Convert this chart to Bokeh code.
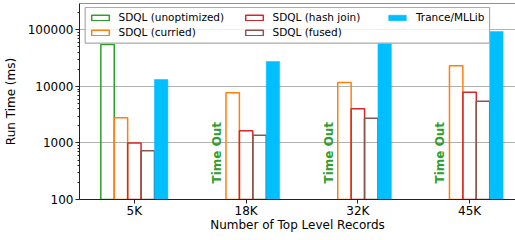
import math
from bokeh.plotting import figure
from bokeh.models import (Range1d, FixedTicker, NumeralTickFormatter, Legend,
                          LegendItem, Span, ColumnDataSource)
from bokeh.core.properties import value
from bokeh.embed import file_html
from bokeh.resources import INLINE

# ---- data ----
categories = ["5K", "18K", "32K", "45K"]
sdql_unoptimized = [55300, None, None, None]   # None = Time Out
sdql_curried = [2790, 7730, 11780, 23200]
sdql_hash_join = [1000, 1645, 4030, 7920]
sdql_fused = [728, 1375, 2750, 5500]
trance_mllib = [13300, 27700, 58300, 94000]
y_ticks = [100, 1000, 10000, 100000]

series = [
    ("SDQL (unoptimized)", sdql_unoptimized, "#2ca02c", False),
    ("SDQL (curried)", sdql_curried, "#ff7f0e", False),
    ("SDQL (hash join)", sdql_hash_join, "#d62728", False),
    ("SDQL (fused)", sdql_fused, "#8c564b", False),
    ("Trance/MLLib", trance_mllib, "#00bfff", True),
]

FONT = "DejaVu Sans"
bar_w = 0.12
x_lo, x_hi = -0.491, 3.411
y_lo, y_hi = 100, 294000
FW, FH = 437, 196  # plot-area size in px

p = figure(width=515, height=240, output_backend="svg", toolbar_location=None,
           y_axis_type="log", x_range=Range1d(x_lo, x_hi),
           y_range=Range1d(y_lo, y_hi),
           min_border_left=78, min_border_right=0, min_border_top=3,
           min_border_bottom=41)
p.outline_line_color = None
p.background_fill_color = "white"

renderers = []
n = len(series)
for k, (name, vals, color, filled) in enumerate(series):
    off = (k - (n - 1) / 2) * bar_w
    xs = [i + off for i, v in enumerate(vals) if v is not None]
    tops = [v for v in vals if v is not None]
    src = ColumnDataSource(dict(x=xs, top=tops))
    if filled:
        r = p.vbar(x="x", top="top", bottom=1, width=bar_w, source=src,
                   fill_color=color, line_color=color, line_width=0.5)
    else:
        r = p.vbar(x="x", top="top", bottom=1, width=bar_w, source=src,
                   fill_color=None, line_color=color, line_width=1.5)
    renderers.append((name, r))

# Time Out labels where the unoptimized run did not finish
to_x = [i - 2 * bar_w for i, v in enumerate(sdql_unoptimized) if v is None]
to_src = ColumnDataSource(dict(x=to_x, y=[192] * len(to_x),
                               t=["Time Out"] * len(to_x)))
p.text(x="x", y="y", text="t", source=to_src, angle=math.pi / 2,
       text_align="left", text_baseline="middle", x_offset=-2.5,
       text_font=value(FONT), text_font_style="bold",
       text_font_size="12px", text_color="#2ca02c")

# legend frame (decoration), placed by pixel offsets converted through the scales
def px_to_x(px):
    return x_lo + px * (x_hi - x_lo) / FW

def px_to_y(px_from_top):
    span = math.log10(y_hi) - math.log10(y_lo)
    return 10 ** (math.log10(y_hi) - px_from_top * span / FH)

p.quad(left=[px_to_x(5.7)], right=[px_to_x(411)],
       top=[px_to_y(4)], bottom=[px_to_y(39.7)],
       fill_color="white", fill_alpha=0.8, line_color="#aaaaaa",
       line_width=1.2)

# top spine
p.add_layout(Span(location=y_hi, dimension="width", line_color="#222222",
                  line_width=1))

# grid
p.xgrid.grid_line_color = None
p.ygrid.grid_line_color = "#b0b0b0"
p.ygrid.grid_line_width = 1

# axes
minor = [m * 10 ** d for d in range(2, 6) for m in range(2, 10)]
p.yaxis.ticker = FixedTicker(ticks=y_ticks, minor_ticks=minor)
p.yaxis.formatter = NumeralTickFormatter(format="0")
p.xaxis.ticker = FixedTicker(ticks=list(range(len(categories))), minor_ticks=[])
p.xaxis.major_label_overrides = {i: c for i, c in enumerate(categories)}
p.xaxis.axis_label = "Number of Top Level Records"
p.yaxis.axis_label = "Run Time (ms)"
for ax in (p.xaxis[0], p.yaxis[0]):
    ax.axis_line_color = "#222222"
    ax.axis_line_width = 1
    ax.major_tick_line_color = "#222222"
    ax.minor_tick_line_color = "#222222"
    ax.major_tick_out = 4
    ax.major_tick_in = 0
    ax.minor_tick_out = 2
    ax.minor_tick_in = 0
    ax.major_label_text_font = FONT
    ax.major_label_text_font_size = "12px"
    ax.major_label_text_color = "black"
    ax.axis_label_text_font = FONT
    ax.axis_label_text_font_size = "12px"
    ax.axis_label_text_font_style = "normal"
    ax.axis_label_text_color = "black"
p.yaxis.major_label_standoff = 2
p.xaxis.major_label_standoff = 0
p.xaxis.axis_label_standoff = -3
p.yaxis.axis_label_standoff = 7

# legend: three columns placed at their own positions
cols = [(renderers[0:2], 9.5), (renderers[2:4], 163.5), (renderers[4:5], 307)]
for items, cx in cols:
    nitems = len(items)
    h = nitems * 12 + (nitems - 1) * 3
    lg = Legend(items=[LegendItem(label=nm, renderers=[r]) for nm, r in items],
                location=(cx, FH - 8 - h), orientation="vertical",
                label_text_font=FONT, label_text_font_size="10.5px",
                label_text_color="black",
                glyph_width=22, glyph_height=7, label_standoff=8,
                label_height=12, spacing=3, padding=0, margin=0,
                border_line_color=None, background_fill_alpha=0)
    p.add_layout(lg)

open("out.html", "w").write(file_html(p, INLINE))
